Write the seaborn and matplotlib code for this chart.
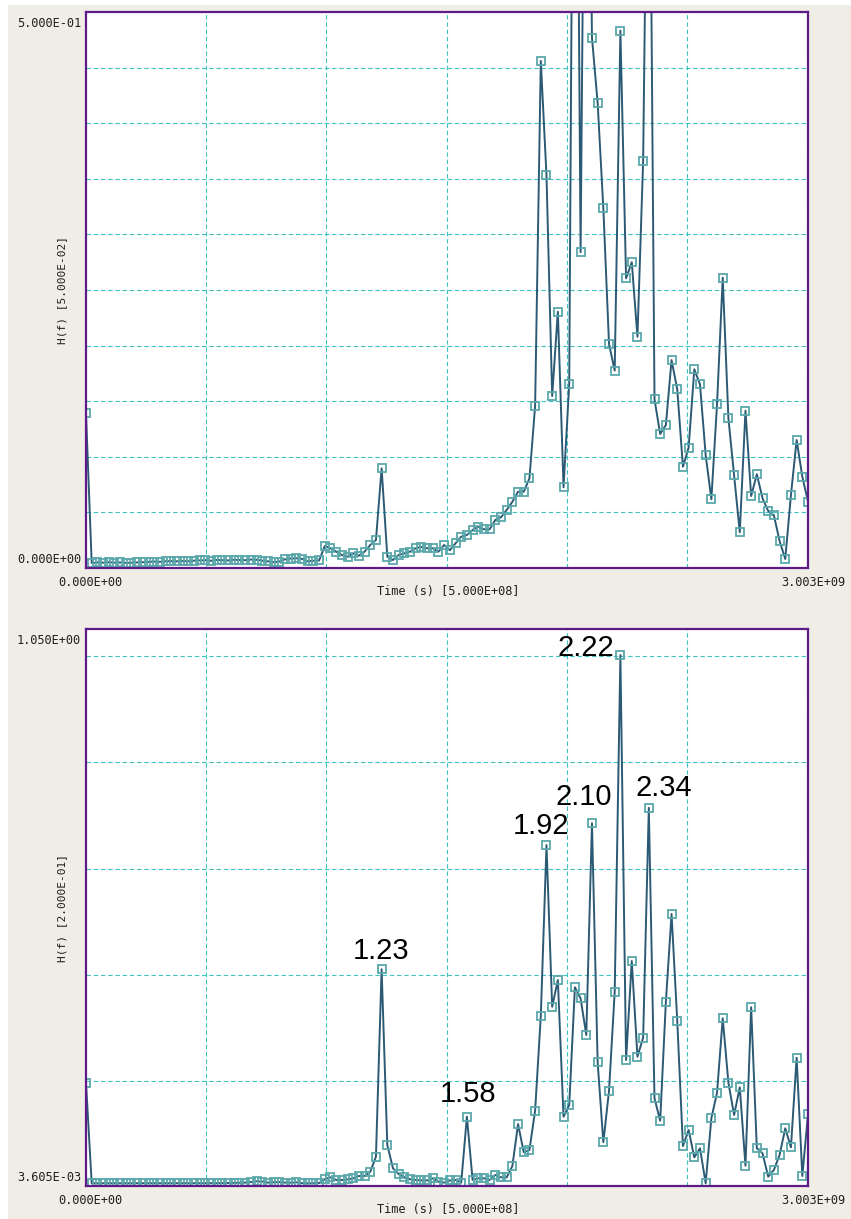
import numpy as np
import pandas as pd
import matplotlib
matplotlib.use("Agg")
import matplotlib.pyplot as plt
from matplotlib.patches import Rectangle
import seaborn as sns

# ---------------- data ----------------
n_samples = 128
t_end = 3.003e9
time_s = np.linspace(0.0, t_end, n_samples)

top_values = [
    0.1390,
    0.0045, 0.0050, 0.0048, 0.0052, 0.0048, 0.0050, 0.0046, 0.0048, 0.0050, 0.0052,
    0.0055, 0.0058, 0.0055, 0.0060, 0.0062, 0.0060, 0.0063, 0.0060, 0.0066, 0.0068,
    0.0070, 0.0065, 0.0072, 0.0070, 0.0068, 0.0074, 0.0072, 0.0070, 0.0076, 0.0074,
    0.0066, 0.0060, 0.0052, 0.0058, 0.0078, 0.0085, 0.0088, 0.0082, 0.0060, 0.0065,
    0.0068,
    0.0198, 0.0177, 0.0147, 0.0117, 0.0102, 0.0132, 0.0110, 0.0147, 0.0207, 0.0252,
    0.0896, 0.0102, 0.0072, 0.0117, 0.0132, 0.0147, 0.0177, 0.0190, 0.0177, 0.0177,
    0.0147, 0.0207, 0.0160, 0.0222, 0.0282, 0.0297, 0.0342, 0.0372, 0.0348, 0.0348,
    0.0432, 0.0456, 0.0522, 0.0596, 0.0686, 0.0686, 0.0806, 0.1457, 0.4560, 0.3530,
    0.1547, 0.2305, 0.0726, 0.1655, 1.0000, 0.2840, 0.9000, 0.4770, 0.4180, 0.3235,
    0.2014, 0.1775, 0.4833, 0.2605, 0.2750, 0.2080, 0.3660, 0.8000, 0.1517, 0.1205,
    0.1286, 0.1870, 0.1607, 0.0911, 0.1082, 0.1787, 0.1652, 0.1016, 0.0618, 0.1475,
    0.2610, 0.1346, 0.0836, 0.0321, 0.1415, 0.0647, 0.0843, 0.0627, 0.0513, 0.0474,
    0.0243, 0.0081, 0.0656, 0.1151, 0.0821, 0.0596,
]

bottom_values = [
    0.1980,
    0.0087, 0.0087, 0.0088, 0.0086, 0.0087, 0.0088, 0.0087, 0.0086, 0.0087, 0.0088,
    0.0087, 0.0086, 0.0087, 0.0088, 0.0087, 0.0087, 0.0086, 0.0087, 0.0088, 0.0087,
    0.0087, 0.0088, 0.0089, 0.0090, 0.0092, 0.0094, 0.0096, 0.0100, 0.0110, 0.0125,
    0.0120, 0.0100, 0.0105, 0.0110, 0.0100, 0.0098, 0.0105, 0.0090, 0.0085, 0.0088,
    0.0092,
    0.0162, 0.0200, 0.0149, 0.0149, 0.0160, 0.0180, 0.0224, 0.0224, 0.0305, 0.0587,
    0.4107, 0.0806, 0.0368, 0.0261, 0.0200, 0.0162, 0.0149, 0.0140, 0.0140, 0.0180,
    0.0117, 0.0100, 0.0140, 0.0149, 0.0100, 0.1338, 0.0149, 0.0180, 0.0180, 0.0149,
    0.0243, 0.0199, 0.0199, 0.0412, 0.1200, 0.0669, 0.0712, 0.1450, 0.3229, 0.6440,
    0.3404, 0.3906, 0.1338, 0.1558, 0.3769, 0.3560, 0.2873, 0.6850, 0.2360, 0.0857,
    0.1826, 0.3686, 1.0010, 0.2403, 0.4263, 0.2465, 0.2822, 0.7140, 0.1683, 0.1263,
    0.3498, 0.5146, 0.3141, 0.0787, 0.1088, 0.0575, 0.0744, 0.0087, 0.1308, 0.1789,
    0.3186, 0.1977, 0.1370, 0.1890, 0.0417, 0.3393, 0.0744, 0.0650, 0.0211, 0.0337,
    0.0618, 0.1120, 0.0763, 0.2446, 0.0224, 0.1389,
]

peak_labels = ["1.23", "1.58", "1.92", "2.10", "2.22", "2.34"]
peak_index = [52, 67, 81, 89, 94, 99]
# label offsets (pixels) relative to the peak marker
peak_offsets = [(-1, 10), (1, 15), (-5, 11), (-8, 18), (-35, -1), (15, 12)]

top_ylim = (0.0, 0.5)
top_ystep = 0.05
bottom_ylim = (3.605e-3, 1.050)
bottom_ystep = 0.2
x_step = 5.0e8

top_ylabel = "H(f) [5.000E-02]"
bottom_ylabel = "H(f) [2.000E-01]"
xlabel = "Time (s) [5.000E+08]"
top_ytick_labels = ("0.000E+00", "5.000E-01")
bottom_ytick_labels = ("3.605E-03", "1.050E+00")
xtick_labels = ("0.000E+00", "3.003E+09")

# ---------------- style ----------------
sns.set_theme(style="white")
plt.rcParams["font.family"] = ["DejaVu Sans"]

W, H = 851, 1219
DPI = 100
fig = plt.figure(figsize=(W / DPI, H / DPI), dpi=DPI, facecolor="white")
fig.patches.append(Rectangle((8 / W, 0), 1 - 8 / W, (H - 5) / H,
                             transform=fig.transFigure, facecolor="#f0ede6",
                             edgecolor="none", zorder=-10))

LINE_C = "#2c5a74"
MARK_C = "#5aa8ab"
GRID_C = "#3fc2c2"
FRAME_C = "#5e1a86"
TEXT_C = "#1e1e1e"
MONO = "DejaVu Sans Mono"
MONO_SIZE = 8.6

left = 86 / W
width = 722 / W
ax_top = fig.add_axes([left, (H - 568) / H, width, 556 / H])
ax_bot = fig.add_axes([left, (H - 1186) / H, width, 557 / H])


def style_axes(ax, ylim, ystep, ylabel, ylabels):
    ax.set_facecolor("white")
    ax.set_xlim(0, t_end)
    ax.set_ylim(*ylim)
    xt = np.arange(x_step, t_end, x_step)
    ax.set_xticks(xt)
    first = np.ceil(ylim[0] / ystep + 1e-9) * ystep
    yt = np.arange(first, ylim[1] - 1e-9, ystep)
    ax.set_yticks(yt)
    ax.tick_params(length=0, labelbottom=False, labelleft=False)
    ax.grid(True, color=GRID_C, linestyle=(0, (4, 2.5)), linewidth=0.8)
    ax.set_axisbelow(True)
    for s in ax.spines.values():
        s.set_color(FRAME_C)
        s.set_linewidth(1.6)
        s.set_visible(True)
    ax.set_xlabel("")
    ax.set_ylabel("")
    # y extreme labels
    ax.annotate(ylabels[1], xy=(0, 1), xycoords="axes fraction",
                xytext=(-5, -5), textcoords="offset pixels",
                ha="right", va="top", family=MONO, fontsize=MONO_SIZE, color=TEXT_C)
    ax.annotate(ylabels[0], xy=(0, 0), xycoords="axes fraction",
                xytext=(-5, 5), textcoords="offset pixels",
                ha="right", va="baseline", family=MONO, fontsize=MONO_SIZE, color=TEXT_C)
    # x extreme labels
    ax.annotate(xtick_labels[0], xy=(0, 0), xycoords="axes fraction",
                xytext=(4, -18), textcoords="offset pixels",
                ha="center", va="baseline", family=MONO, fontsize=MONO_SIZE, color=TEXT_C)
    ax.annotate(xtick_labels[1], xy=(1, 0), xycoords="axes fraction",
                xytext=(5, -18), textcoords="offset pixels",
                ha="center", va="baseline", family=MONO, fontsize=MONO_SIZE, color=TEXT_C)
    ax.annotate(xlabel, xy=(0.5, 0), xycoords="axes fraction",
                xytext=(1, -27), textcoords="offset pixels",
                ha="center", va="baseline", family=MONO, fontsize=MONO_SIZE, color=TEXT_C)
    ax.annotate(ylabel, xy=(0, 0.5), xycoords="axes fraction",
                xytext=(-24, 0), textcoords="offset pixels", rotation=90,
                ha="center", va="center", family=MONO, fontsize=MONO_SIZE - 0.6,
                color=TEXT_C)


def draw_series(ax, values):
    df = pd.DataFrame({"t": time_s, "v": values})
    sns.lineplot(data=df, x="t", y="v", ax=ax, estimator=None, sort=False,
                 color=LINE_C, linewidth=1.4, marker="s", markersize=5.4,
                 markerfacecolor="none", markeredgecolor=MARK_C,
                 markeredgewidth=1.3, legend=False)


draw_series(ax_top, top_values)
style_axes(ax_top, top_ylim, top_ystep, top_ylabel, top_ytick_labels)

draw_series(ax_bot, bottom_values)
style_axes(ax_bot, bottom_ylim, bottom_ystep, bottom_ylabel, bottom_ytick_labels)

for lab, idx, (dx, dy) in zip(peak_labels, peak_index, peak_offsets):
    ax_bot.annotate(lab, xy=(time_s[idx], bottom_values[idx]), xycoords="data",
                    xytext=(dx, dy), textcoords="offset pixels",
                    ha="center", va="baseline", family=["Liberation Sans", "DejaVu Sans"],
                    fontsize=21, color="black", annotation_clip=False)

fig.savefig("out.png", dpi=DPI, facecolor=fig.get_facecolor())
